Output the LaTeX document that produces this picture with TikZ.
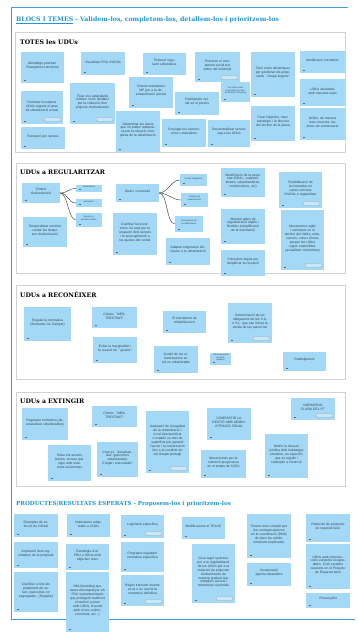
\documentclass[tikz,border=0pt]{standalone}
\usepackage{fontspec}
\newfontfamily\notefont{Liberation Sans}
\newfontfamily\slab{DejaVu Serif}
\usetikzlibrary{calc}
\definecolor{notefill}{RGB}{163,216,246}
\definecolor{notetxt}{RGB}{55,65,75}
\definecolor{titleblue}{RGB}{30,150,212}
\definecolor{framebl}{RGB}{60,160,220}
\tikzset{
  notebox/.style={fill=notefill,draw=none,inner sep=0pt,outer sep=0pt},
  notetext/.style={font=\notefont\fontsize{3.3}{3.9}\selectfont,align=center,inner sep=0pt,text=notetxt},
  tiny/.style={font=\notefont\fontsize{2.2}{2.6}\selectfont},
  icon/.style={draw=gray!80!black,line width=0.4pt},
  pillbox/.style={draw=gray!70,fill=notefill!60!white,line width=0.3pt,rounded corners=1.5pt},
  secbox/.style={draw=gray!35,fill=white,line width=0.6pt},
  sectitle/.style={font=\slab\bfseries\fontsize{6.2}{7}\selectfont,anchor=base west,inner sep=0pt},
  maintitle/.style={font=\slab\bfseries\fontsize{5.6}{7}\selectfont,text=titleblue,anchor=base west,inner sep=0pt},
  branch/.style={draw=black!70,line width=0.5pt},
  frame/.style={draw=framebl,line width=0.9pt}
}
\newcommand\nt[7][]{%
  \pgfmathsetmacro\ntw{#5-#3}%
  \pgfmathsetmacro\nth{#6-#4}%
  \pgfmathsetmacro\ntt{#5-#3-7}%
  \node[notebox,minimum width=\ntw pt,minimum height=\nth pt] (#2) at ({(#3+#5)/2},{(#4+#6)/2}) {};
  \node[notetext,#1,text width=\ntt pt] (#2t) at ({(#3+#5)/2},{(#4+#6-3)/2}) {#7};
  \draw[icon] (#3+2.5,#6-2.6) -- (#3+5,#6-2.6);
}
\newcommand\pill[2]{\draw[pillbox] (#1-19,#2-6.5) rectangle (#1-2,#2-2.6);}
\begin{document}
\begin{tikzpicture}[x=1pt,y=-1pt]
\useasboundingbox (0,0) rectangle (358,632);
\fill[white] (0,0) rectangle (358,632);
% outer frame
\draw[frame] (348,7) -- (11,7) -- (11,619) -- (355,619);
% titles
\node[maintitle,font=\slab\bfseries\fontsize{6.2}{7}\selectfont] (title) at (16,21.5) {\underline{BLOCS I TEMES} - Validem-los, completem-los, detallem-los i prioritzem-los};
% section boxes
\draw[secbox] (15,32) rectangle (345,152);
\draw[secbox] (16,163) rectangle (345,273);
\draw[secbox] (16,285) rectangle (345,379);
\draw[secbox] (16,392) rectangle (345,486);
\node[sectitle] (s1) at (20,44) {TOTES les UDUs};
\node[sectitle] (s2) at (20,174) {UDUs a REGULARITZAR};
\node[sectitle] (s3) at (20,297) {UDUs a RECONÈIXER};
\node[sectitle] (s4) at (20,403) {UDUs a EXTINGIR};
\node[maintitle] (title2) at (16,505) {PRODUCTES/RESULTATS ESPERATS - Proposem-los i prioritzem-los};
% ---- TOTES
\nt{a1}{21}{52}{64}{83}{Abordatge prioritari. Planejament territorial}
\nt{a2}{81}{52}{125}{75}{Visualitzar PDU d'UDUs}
\nt{a3}{143}{53}{186}{75}{Protocol regulació urbanística}
\nt{a4}{195}{52}{240}{82}{Prioritzar el component social per sobre del territorial}\pill{240}{82}
\nt[tiny]{a5}{221}{82}{250}{102}{Les UDUs amb necessitats socials i de dotació més greus}
\nt{a6}{251}{52}{295}{97}{Tenir eines dinàmiques per gestionar els propietaris ``okupa segons''}
\nt{a7}{300}{51}{345}{73}{Modificació normativa}
\nt{a8}{300}{79}{345}{106}{UDUs afectades amb mesures reals}
\nt{a9}{300}{108}{345}{140}{Definir, de manera més concreta, les àrees de conservació}
\nt{a10}{251}{106}{295}{141}{Fixar l'objectiu, marc estratègic i la direcció del territori de la plana}
\nt{a11}{175}{92}{219}{115}{Participació veïnal en el procés}
\nt{a14}{129}{77}{173}{108}{Criteris mandatoris MP per a la desclassificació parcial}
\nt{a15}{21}{91}{63}{124}{Prioritzar incorporar UDUs segons el grau de urbanització actual}\pill{63}{124}
\nt{a16}{70}{83}{115}{124}{Fixar uns estàndards mínims i més flexibles per la redacció d'un projecte d'urbanització}\pill{115}{124}
\nt{a17}{21}{127}{65}{149}{Recepció per serveis}
\nt{a18}{116}{111}{160}{152}{Determinar les àrees que no poden adequar-se per la situació complexa de la urbanització}
\nt{a13}{162}{119}{206}{147}{Conjugar les subvencions i marcadors}
\nt{a12}{208}{120}{250}{147}{Descentralitzar serveis cap a les UDUs}
% ---- REGULARITZAR
\nt{b1}{22}{183}{60}{203}{Criteris d'urbanització}
\nt[tiny]{b1a}{76}{185}{102}{192}{Urbanització}
\nt[tiny]{b1b}{76}{199}{102}{207}{Dotacions}
\nt[tiny]{b1c}{76}{213}{102}{227}{Serveis urbanístics bàsics}
\draw[branch] (b1.east) .. controls +(8,0) and +(-8,0) .. (b1a.west);
\draw[branch] (b1.east) .. controls +(8,0) and +(-8,0) .. (b1b.west);
\draw[branch] (b1.east) .. controls +(8,0) and +(-8,0) .. (b1c.west);
\nt{b2}{23}{217}{67}{247}{Temporalitzar terminis i evitar les despeses d'urbanització}
\nt{b3}{116}{184}{159}{202}{Drets i concessió}
\nt[tiny]{b3a}{180}{174}{207}{186}{Cessió obligatòria}
\nt[tiny]{b3b}{181}{193}{208}{207}{Projecte de reparcel·lació}
\nt[tiny]{b3c}{175}{216}{203}{232}{Finançament de la urbanització}
\draw[branch] (b3.east) .. controls +(9,0) and +(-9,0) .. (b3a.west);
\draw[branch] (b3.east) .. controls +(9,0) and +(-9,0) .. (b3b.west);
\draw[branch] (b3.east) .. controls +(9,0) and +(-9,0) .. (b3c.west);
\nt{b4}{113}{213}{157}{255}{Clarificar les inversions i la taxa per la ocupació dels serveis i la seva aplicació a les quotes del veïnat}
\nt{b5}{166}{238}{210}{265}{Adaptar exigències tècniques a la urbanització}
\nt{b6}{221}{168}{265}{197}{Identificació de la propietat (REAL, cadastre, titulars, urbanitzadores, constructores, etc)}
\nt{b7}{221}{209}{265}{244}{Afrontar plans de regularització ràpids i flexibles (simplificació de la tramitació)}
\nt{b8}{221}{250}{265}{276}{Precisions legals per simplificar la recepció}
\nt{b9}{279}{172}{322}{208}{Flexibilització de la normativa en casos concrets d'UDUs a regularitzar}\pill{322}{208}
\nt{b10}{281}{210}{324}{270}{Mecanismes àgils i normatius en el territori del Vallès, ordenances, zones d'usos perquè les UDUs siguin sostenibles (actualitzar normatives)}\pill{324}{270}
% ---- RECONEIXER
\nt{c1}{24}{307}{71}{341}{Regular la normativa (Síndrome Lin Samper)}
\nt{c2}{92}{307}{137}{328}{Criteris ``MENTRESTANT''}
\nt{c3}{93}{337}{137}{363}{Evitar la marginalitat i la creació de ``guetos''}
\nt{c4}{163}{311}{206}{333}{El tractament de rehabilitacions}
\nt{c5}{154}{346}{198}{373}{Gestió de les urbanitzacions en sòl no urbanitzable}
\nt[tiny]{c6}{210}{353}{231}{365}{Reconeixement de drets adquirits}
\nt{c7}{228}{303}{272}{343}{Determinació de les obligacions de les S.A. o S.L. que van iniciar la venda de les parcel·les}\pill{272}{343}
\nt{c8}{283}{352}{326}{371}{Reallotjament}
% ---- EXTINGIR
\nt{d1}{22}{408}{68}{440}{Regulació normativa (desclassificar urbanitzables)}
\nt{d2}{92}{406}{137}{427}{Criteris ``MENTRESTANT''}
\nt{d3}{48}{445}{91}{481}{Dotar els serveis bàsics, encara que sigui amb solucions autònomes}
\nt{d4}{97}{442}{138}{477}{Com es ``desurbanitza'' (parcel·les urbanitzades) il·legal i executada?}
\nt{d5}{146}{411}{189}{473}{Avaluació de la legalitat de la urbanització i si cal desclassificar o establir un dret de superfície per garantir l'accés i la conservació fins a la condició de sòl d'espai protegit}\pill{189}{473}
\nt{d6}{207}{408}{251}{440}{COMPARTIR LA GESTIÓ AMB ADMINISTRACIÓ ZONAL}
\nt{d7}{201}{450}{246}{478}{Mecanismes per la reducció progressiva en el temps de l'UDU}
\nt{d8}{291}{398}{335}{420}{NORMATIVA CLARA DEL PT}\pill{335}{420}
\nt{d9}{265}{434}{308}{478}{Definir la situació jurídica dels habitatges existents, en específic que es regulin i s'adeqüin a l'extinció}
% ---- PRODUCTES
\nt{e1}{14}{514}{58}{537}{Exemples de selecció de l'oficial}
\nt{e2}{14}{542}{58}{568}{Implicació dels registradors de la propietat}
\nt{e3}{14}{572}{58}{612}{Clarificar a tots els propietaris de solars i parcel·les no segregades. (Registre)}
\nt{e4}{67}{514}{110}{537}{Normatives adaptades a UDUs}
\nt{e5}{66}{544}{109}{570}{Estratègia d'un PDU a UDUs amb objectius clars}
\nt{e6}{66}{572}{109}{632}{NNUU/catàleg que tracta d'acompanyar els PDU supramunicipals que protegeixi realment el territori (zones amb UDUs, d'acord amb el seu entorn, economia, etc...)}
\nt{e7}{121}{515}{164}{538}{Legislació específica}\pill{164}{538}
\nt{e8}{121}{542}{164}{572}{Programa regulador normativa específica}
\nt{e9}{121}{575}{164}{606}{Règim transitori mentre es fa o es canvia la normativa definitiva}\pill{164}{606}
\nt{e10}{182}{517}{225}{539}{Modificacions al TRLUC}
\nt{e11}{192}{544}{235}{603}{Guia legal i pràctica per a la regularització de les UDUs per a la redacció de projectes d'urbanització de manera gradual que compleixi serveis i normatives sectorials}\pill{235}{603}
\nt{e12}{247}{514}{291}{558}{Proveir més complet per les contraprestacions en la coordinació (PAM) de totes les administracions implicades}
\nt{e13}{247}{563}{291}{586}{Incorporació agents urbanístics}
\nt{e14}{306}{514}{350}{542}{Redacció de projectes de reparcel·lació}
\nt{e15}{306}{544}{350}{589}{UDUs amb construccions existents recuperables. Com resoldre cessions en el Projecte de Reparcel·lació}
\nt{e16}{306}{593}{350}{608}{Proves pilot}
\end{tikzpicture}
\end{document}
